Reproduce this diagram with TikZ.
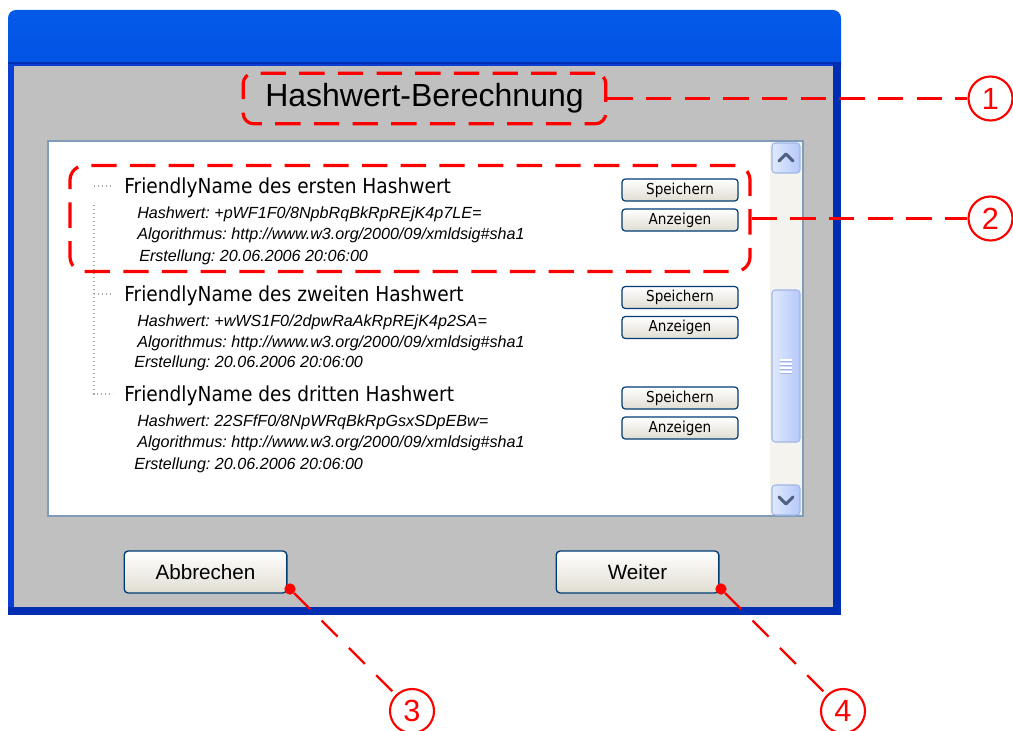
\documentclass[tikz,border=0pt]{standalone}
\usepackage{fontspec}
\setmainfont{Liberation Sans}
\newfontfamily\uifont[FakeStretch=0.9]{DejaVu Sans}
\frenchspacing

\definecolor{callred}{RGB}{255,0,0}
\definecolor{winblue}{RGB}{10,62,212}
\definecolor{winblueDark}{RGB}{0,46,178}
\definecolor{barTop}{RGB}{6,90,232}
\definecolor{barMid}{RGB}{0,108,255}
\definecolor{barBot}{RGB}{0,82,228}
\definecolor{panel}{RGB}{192,192,192}
\definecolor{listframe}{RGB}{127,157,185}
\definecolor{trackbg}{RGB}{244,243,238}
\definecolor{btnedge}{RGB}{0,60,116}
\definecolor{btnlow}{RGB}{224,221,210}
\definecolor{thumbL}{RGB}{224,233,254}
\definecolor{thumbR}{RGB}{182,200,248}
\definecolor{thumbedge}{RGB}{160,182,232}
\definecolor{arrowc}{RGB}{77,97,133}
\definecolor{treedots}{RGB}{165,165,165}

\begin{document}
\begin{tikzpicture}[x=0.75pt,y=-0.75pt,
  callframe/.style={draw=callred, line width=2.4pt, dash pattern=on 19pt off 10pt, inner sep=0pt},
  callline/.style={draw=callred, line width=2.4pt, dash pattern=on 19pt off 10pt},
  callthin/.style={draw=callred, line width=1.6pt, dash pattern=on 17pt off 12pt},
  numcircle/.style={circle, draw=callred, line width=1.6pt, minimum size=33pt, inner sep=0pt,
    text=callred, font=\fontsize{23}{26}\selectfont},
  reddot/.style={circle, fill=callred, minimum size=8.5pt, inner sep=0pt},
  itemtitle/.style={anchor=base west, inner sep=0pt, font=\uifont\fontsize{15.5}{18}\selectfont},
  itemdetail/.style={anchor=base west, inner sep=0pt, font=\fontsize{12.1}{14}\selectfont\itshape},
  smallbtn/.style={draw=btnedge, line width=0.9pt, rounded corners=2.5pt, top color=white,
    bottom color=btnlow, minimum width=87pt, minimum height=16.5pt, inner sep=0pt,
    font=\uifont\fontsize{11.3}{13}\selectfont},
  bigbtn/.style={draw=btnedge, line width=1pt, rounded corners=3pt, top color=white,
    bottom color=btnlow, minimum width=122pt, minimum height=31.5pt, inner sep=0pt,
    font=\fontsize{15.5}{18}\selectfont},
  scrollpart/.style={draw=thumbedge, line width=0.8pt, rounded corners=2.5pt,
    left color=thumbL, right color=thumbR},
  treeline/.style={draw=treedots, line width=0.8pt, dash pattern=on 0.8pt off 2.2pt}
]
\useasboundingbox (0,0) rectangle (1013,731);
\fill[white] (0,0) rectangle (1013,731);

% window title bar
\shade[top color=barTop, middle color=barMid, bottom color=barBot, rounded corners=6pt]
  (8,10) rectangle (841,75);
\fill[winblueDark] (8,62) rectangle (841,66);

% window frame and grey client area
\fill[winblue] (8,64) rectangle (841,615);
\fill[winblueDark] (833,64) rectangle (841,615);
\fill[winblueDark] (8,607) rectangle (841,615);
\fill[panel] (14,66) rectangle (833,607);

% list box with vertical scroll bar
\fill[white] (48,141) rectangle (802,516);
\fill[trackbg] (770,142) rectangle (802,515);
\draw[listframe, line width=1.2pt] (48,141) rectangle (803,516);
\path[scrollpart] (772,143) rectangle (800,173);
\path[scrollpart] (772,290) rectangle (800,442);
\path[scrollpart] (772,485) rectangle (800,515);
\draw[arrowc, line width=2.2pt, line cap=round, line join=round] (779,161) -- (786,154) -- (793,161);
\draw[arrowc, line width=2.2pt, line cap=round, line join=round] (779,497) -- (786,504) -- (793,497);
\foreach \gy in {360,364,368,372}{
  \draw[thumbedge, line width=0.9pt] (780,\gy+1) -- (792,\gy+1);
  \draw[white, line width=0.9pt] (780,\gy) -- (792,\gy);
}

% tree guide lines
\draw[treeline] (94,205) -- (94,394) -- (113,394);
\draw[treeline] (94,294) -- (113,294);
\draw[treeline] (94,186) -- (113,186);

% first hash value
\node[itemtitle] (t1) at (124,193.5) {FriendlyName des ersten Hashwert};
\node[itemdetail] (h1) at (137,218) {Hashwert: +pWF1F0/8NpbRqBkRpREjK4p7LE=};
\node[itemdetail] (a1) at (137,239) {Algorithmus: http://www.w3.org/2000/09/xmldsig\#sha1};
\node[itemdetail] (e1) at (139,261) {Erstellung: 20.06.2006 20:06:00};
\node[smallbtn] (s1) at (680,190) {Speichern};
\node[smallbtn] (z1) at (680,220) {Anzeigen};

% second hash value
\node[itemtitle] (t2) at (124,301.5) {FriendlyName des zweiten Hashwert};
\node[itemdetail] (h2) at (137,326) {Hashwert: +wWS1F0/2dpwRaAkRpREjK4p2SA=};
\node[itemdetail] (a2) at (137,347) {Algorithmus: http://www.w3.org/2000/09/xmldsig\#sha1};
\node[itemdetail] (e2) at (134,367) {Erstellung: 20.06.2006 20:06:00};
\node[smallbtn] (s2) at (680,297.5) {Speichern};
\node[smallbtn] (z2) at (680,327.5) {Anzeigen};

% third hash value
\node[itemtitle] (t3) at (124,401.5) {FriendlyName des dritten Hashwert};
\node[itemdetail] (h3) at (137,426) {Hashwert: 22SFfF0/8NpWRqBkRpGsxSDpEBw=};
\node[itemdetail] (a3) at (137,447) {Algorithmus: http://www.w3.org/2000/09/xmldsig\#sha1};
\node[itemdetail] (e3) at (134,469) {Erstellung: 20.06.2006 20:06:00};
\node[smallbtn] (s3) at (680,398) {Speichern};
\node[smallbtn] (z3) at (680,428) {Anzeigen};

% dialog heading and bottom buttons
\node[anchor=base, inner sep=0pt, font=\fontsize{24}{28}\selectfont] (title) at (424.5,107) {Hashwert-Berechnung};
\node[bigbtn] (cancel) at (205.5,572) {Abbrechen};
\node[bigbtn] (next) at (637.5,572) {Weiter};

% callouts
\node[callframe, rounded corners=8pt, minimum width=272pt, minimum height=38pt] (tf) at (424.5,98.5) {};
\node[callframe, rounded corners=11pt, minimum width=510pt, minimum height=79.5pt] (grp) at (410,218.5) {};
\node[numcircle] (c1) at (990.5,98.5) {1};
\node[numcircle] (c2) at (990.5,218.5) {2};
\node[numcircle] (c3) at (412,711) {3};
\node[numcircle] (c4) at (843,711) {4};
\node[reddot] (d3) at (290,589) {};
\node[reddot] (d4) at (721,589) {};
\draw[callline] (tf.east) -- (c1);
\draw[callline] (grp.east) -- (c2);
\draw[callthin] (d3) -- (c3);
\draw[callthin] (d4) -- (c4);
\end{tikzpicture}
\end{document}
